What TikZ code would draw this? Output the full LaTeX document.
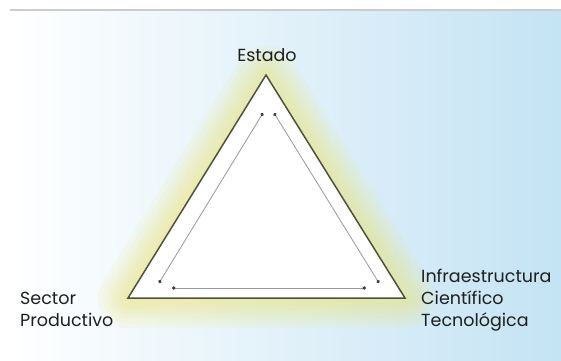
\documentclass[tikz,border=0pt]{standalone}
\usepackage{fontspec}
\setmainfont{Poppins}
\usetikzlibrary{arrows.meta}
\usetikzlibrary{positioning}
\definecolor{cielo}{RGB}{196,227,244}
\definecolor{brillo}{RGB}{236,230,120}
\definecolor{borde}{RGB}{80,80,64}
\tikzset{
    % Dot ends on the inner relation lines
    >={Circle[length=3.4pt, color=black!75]},
%
    % The words at the three corners
    vertice label/.style={font=\fontsize{17.5}{22}\selectfont,
        text=black!88, inner sep=0, align=left},
%
    % A soft glow round the triangle
    glow line/.style={draw=brillo, line join=round, opacity=0.11},
%
    % Relation lines inside the triangle
    relation line/.style={draw=black!40, line width=0.8pt, <->}}

\begin{document}
\begin{tikzpicture}[x=1pt, y=-1pt]

% Page and background
\useasboundingbox (0,0) rectangle (561,360);
\fill [white] (0,0) rectangle (561,360);
\shade [left color=white, right color=cielo] (10,10) rectangle (561,360);
\draw [black!20, line width=1.2pt] (10,10) -- (561,10);

% Triangle corners
\coordinate (apex) at (266,75);
\coordinate (izq) at (128,298);
\coordinate (der) at (405,298);

% Glow
\foreach \w in {60,50,40,32,24,16,8}
    \draw [glow line, line width=\w pt] (apex) -- (izq) -- (der) -- cycle;

\draw [fill=white, draw=borde, line width=1.5pt, line join=miter]
    (apex) -- (izq) -- (der) -- cycle;

% Inner relation lines
\coordinate (a1) at (263,113);
\coordinate (a2) at (274,113);
\coordinate (l1) at (159,283);
\coordinate (r1) at (379,283);
\coordinate (b1) at (172,288);
\coordinate (b2) at (366,288);

\draw [relation line] (l1) -- (a1);
\draw [relation line] (a2) -- (r1);
\draw [relation line] (b1) -- (b2);

% Labels
\node [vertice label] (estado) at (267,55) {Estado};
\node [vertice label, anchor=west] (sector) at (20,309) {Sector\\Productivo};
\node [vertice label, anchor=west] (infra) at (421,300)
    {Infraestructura\\Científico\\Tecnológica};

\end{tikzpicture}
\end{document}
